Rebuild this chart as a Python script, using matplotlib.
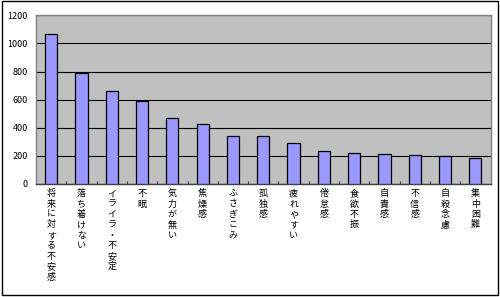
import matplotlib
matplotlib.use("Agg")
import matplotlib.pyplot as plt
from matplotlib.patches import Rectangle

plt.rcParams['font.family'] = ['Noto Sans CJK JP', 'DejaVu Sans']

# symptoms and counts
labels = ['将来に対する不安感', '落ち着けない', 'イライラ・不安定', '不眠', '気力が無い',
          '焦燥感', 'ふさぎこみ', '孤独感', '疲れやすい', '倦怠感',
          '食欲不振', '自責感', '不信感', '自殺念慮', '集中困難']
counts = [1070, 790, 664, 593, 467, 424, 343, 338, 288, 231, 217, 212, 207, 196, 181]
yticks = [0, 200, 400, 600, 800, 1000, 1200]

fig = plt.figure(figsize=(5.0, 2.97), dpi=100)
ax = fig.add_axes([0.072, 0.3815, 0.909, 0.5665])

# outer frame round the whole chart
fig.patches.append(Rectangle((0.003, 0.006), 0.993, 0.99, transform=fig.transFigure,
                             fill=False, edgecolor='black', linewidth=1.0))

ax.set_facecolor('#c0c0c0')
xs = range(len(labels))
ax.bar(xs, counts, width=0.4, color='#9999ff', edgecolor='black', linewidth=0.9, zorder=3)

ax.set_xlim(-0.5, len(labels) - 0.5)
ax.set_ylim(0, 1200)
ax.set_yticks(yticks)
ax.tick_params(axis='y', length=0, pad=6, labelsize=6.5)
ax.grid(axis='y', color='black', linewidth=0.8, zorder=1)

# small tick marks between categories
ax.set_xticks([i + 0.5 for i in range(len(labels) - 1)])
ax.set_xticklabels([])
ax.tick_params(axis='x', direction='in', length=2.5, width=0.8, color='#404040')

for s in ['top', 'right', 'left']:
    ax.spines[s].set_color('#808080')
    ax.spines[s].set_linewidth(1.0)
ax.spines['bottom'].set_color('#404040')
ax.spines['bottom'].set_linewidth(1.0)

# vertical (stacked) category labels
for i, lab in enumerate(labels):
    ax.annotate('\n'.join(lab), xy=(i, 0), xycoords=('data', 'axes fraction'),
                xytext=(0, -4), textcoords='offset points',
                ha='center', va='top', fontsize=6.5, linespacing=1.2)

fig.savefig('out.png', dpi=100)
